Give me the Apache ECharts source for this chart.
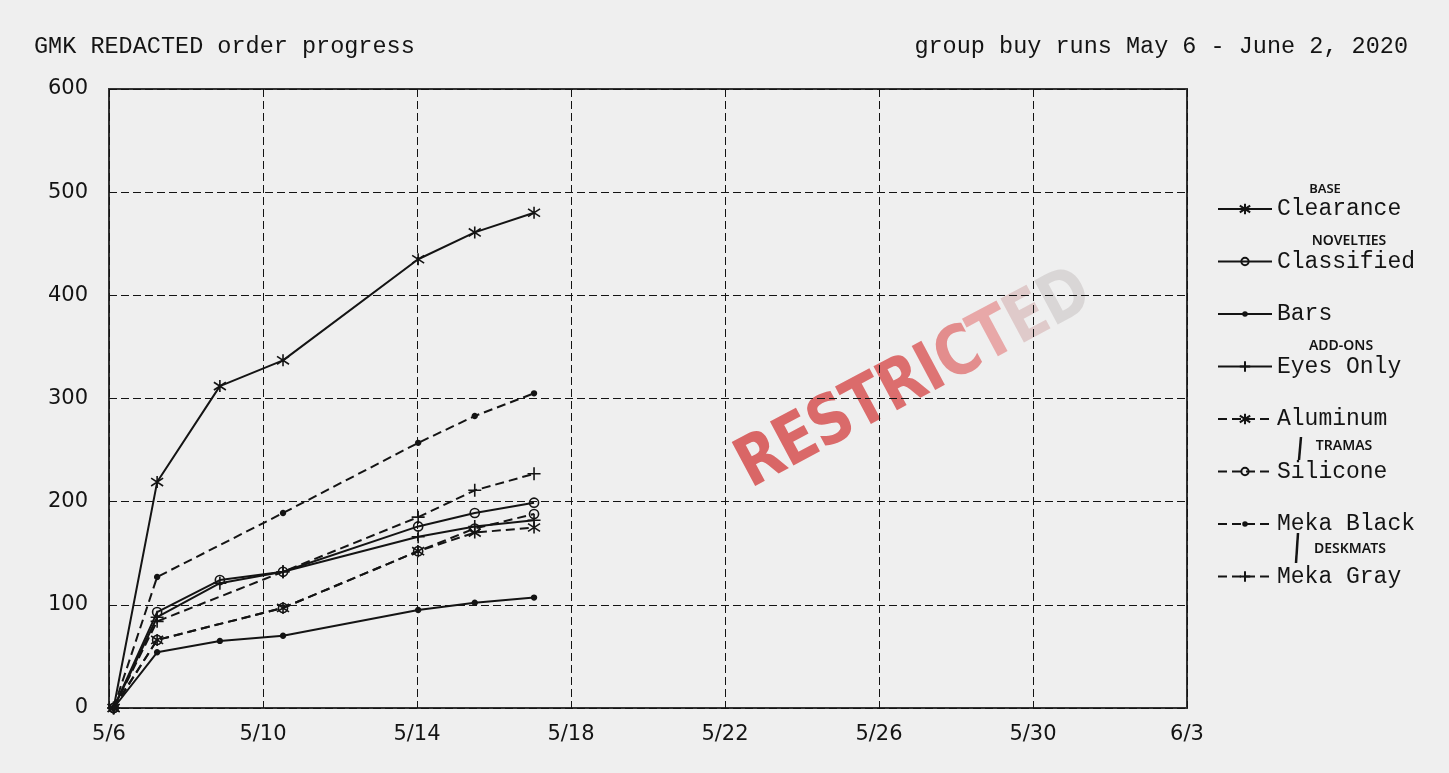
<!DOCTYPE html>
<html>
<head>
<meta charset="utf-8">
<script src="https://cdn.jsdelivr.net/npm/echarts@6/dist/echarts.min.js"></script>
<style>
html,body{margin:0;padding:0;background:#efefef;}
#chart{width:1449px;height:773px;}
</style>
</head>
<body>
<div id="chart"></div>
<script>
// ---- data ----
const titleLeft = 'GMK REDACTED order progress';
const titleRight = 'group buy runs May 6 - June 2, 2020';
const dayOffsets = [0.12, 1.25, 2.88, 4.52, 8.03, 9.5, 11.04]; // days after 5/6
const xTickLabels = ['5/6', '5/10', '5/14', '5/18', '5/22', '5/26', '5/30', '6/3'];
const yTickLabels = ['0', '100', '200', '300', '400', '500', '600'];
const seriesNames = ['Clearance', 'Classified', 'Bars', 'Eyes Only', 'Aluminum', 'Silicone', 'Meka Black', 'Meka Gray'];
const clearance  = [0, 219, 312, 337, 435, 461, 480];
const classified = [0, 93, 124, 132, 176, 189, 199];
const bars       = [0, 54, 65, 70, 95, 102, 107];
const eyesOnly   = [0, 88, 121, 132, 166, 176, 182];
const aluminum   = [0, 66, null, 97, 152, 170, 175];
const silicone   = [0, 66, null, 97, 152, 174, 188];
const mekaBlack  = [0, 127, null, 189, 257, 283, 305];
const mekaGray   = [0, 84, null, 132, 185, 211, 227];
const notes = ['BASE', 'NOVELTIES', 'ADD-ONS', 'TRAMAS', 'DESKMATS'];
const stampText = 'RESTRICTED';

// ---- styles ----
const INK = '#141414';
const MONO = '"Liberation Mono", "DejaVu Sans Mono", monospace';
const SANS = '"DejaVu Sans", sans-serif';
const HAND = '"Noto Sans", sans-serif';
const ASTER = 'path://M0,-1L0,1M-0.8,-0.65L0.8,0.65M-0.8,0.65L0.8,-0.65';
const PLUS = 'path://M-1,0L1,0M0,-1L0,1';
const RING = 'path://M-1,-1M1,1M0.7,0A0.7,0.7,0,1,1,-0.7,0A0.7,0.7,0,1,1,0.7,0Z';
const DOT = 'path://M-1,-1M1,1M0.34,0A0.34,0.34,0,1,1,-0.34,0A0.34,0.34,0,1,1,0.34,0Z';
const stampColors = ['#d96666', '#da6868', '#da6a6a', '#db6b6b', '#dc6e6e', '#de7474', '#e38d8d', '#e8a8a8', '#dfcaca', '#d9d6d6'];

const values = [clearance, classified, bars, eyesOnly, aluminum, silicone, mekaBlack, mekaGray];
const markers = [
  {symbol: ASTER, size: 12, fill: INK},
  {symbol: RING, size: 13, fill: 'rgba(0,0,0,0)'},
  {symbol: DOT, size: 14, fill: INK},
  {symbol: PLUS, size: 13, fill: INK},
];
const dashPattern = [9, 5];

const series = seriesNames.map((name, i) => {
  const m = markers[i % 4];
  const dashed = i >= 4;
  return {
    name: name,
    type: 'line',
    data: values[i].map((v, j) => [dayOffsets[j], v]),
    connectNulls: true,
    symbol: m.symbol,
    symbolSize: m.size,
    showSymbol: true,
    itemStyle: {color: m.fill, borderColor: INK, borderWidth: 1.6, opacity: 1},
    lineStyle: {color: INK, width: 2, type: dashed ? dashPattern : 'solid'},
    emphasis: {disabled: true},
    z: 3
  };
});

// stamp letters laid out along a rotated baseline
const stampFont = 'bold 58px "DejaVu Sans", sans-serif';
const mctx = document.createElement('canvas').getContext('2d');
mctx.font = stampFont;
const advances = stampText.split('').map(ch => mctx.measureText(ch).width * 0.97);
const totalW = advances.reduce((a, b) => a + b, 0);
let acc = -totalW / 2;
const stampLetters = stampText.split('').map((ch, i) => {
  const el = {type: 'text', x: acc, y: 0,
    style: {text: ch, font: stampFont, fill: stampColors[i], align: 'left', verticalAlign: 'middle'}};
  acc += advances[i];
  return el;
});

const chart = echarts.init(document.getElementById('chart'), null, {renderer: 'canvas'});
const noteFont = '600 14px ' + HAND;
const option = {
  animation: false,
  backgroundColor: '#efefef',
  grid: {left: 109, right: 262, top: 89, bottom: 65, show: true, borderColor: '#333', borderWidth: 2, backgroundColor: 'transparent'},
  xAxis: {
    type: 'value', min: 0, max: 28, interval: 4,
    axisLine: {show: false}, axisTick: {show: false},
    splitLine: {show: true, lineStyle: {color: INK, width: 1, type: [8, 4]}},
    axisLabel: {
      formatter: v => xTickLabels[Math.round(v / 4)],
      fontFamily: SANS, fontSize: 21, color: INK, margin: 16
    }
  },
  yAxis: {
    type: 'value', min: 0, max: 600, interval: 100,
    axisLine: {show: false}, axisTick: {show: false},
    splitLine: {show: true, lineStyle: {color: INK, width: 1, type: [8, 4]}},
    axisLabel: {
      formatter: v => yTickLabels[Math.round(v / 100)],
      fontFamily: SANS, fontSize: 21, color: INK, margin: 21
    }
  },
  legend: {
    orient: 'vertical', left: 1217, top: 197.5, padding: 0,
    itemWidth: 54, itemHeight: 13, itemGap: 29.5,
    data: seriesNames,
    textStyle: {fontFamily: MONO, fontSize: 23, color: INK, lineHeight: 23},
    selectedMode: false
  },
  graphic: [
    {type: 'text', left: 34, top: 35, style: {text: titleLeft, font: '23.5px ' + MONO, fill: INK}},
    {type: 'text', right: 41, top: 35, style: {text: titleRight, font: '23.5px ' + MONO, fill: INK}},
    {type: 'group', x: 914, y: 381, rotation: 0.49, scaleY: 1.18, z: 1, children: stampLetters},
    // handwritten notes
    {type: 'text', x: 1325, y: 189, style: {text: notes[0], font: '600 13px ' + HAND, fill: INK, align: 'center', verticalAlign: 'middle'}},
    {type: 'text', x: 1349, y: 241, style: {text: notes[1], font: noteFont, fill: INK, align: 'center', verticalAlign: 'middle'}},
    {type: 'text', x: 1341, y: 346, style: {text: notes[2], font: noteFont, fill: INK, align: 'center', verticalAlign: 'middle'}},
    {type: 'line', shape: {x1: 1301, y1: 437, x2: 1299, y2: 460}, style: {stroke: INK, lineWidth: 2.5}},
    {type: 'text', x: 1344, y: 446, style: {text: notes[3], font: noteFont, fill: INK, align: 'center', verticalAlign: 'middle'}},
    {type: 'line', shape: {x1: 1298, y1: 533, x2: 1296, y2: 563}, style: {stroke: INK, lineWidth: 2.5}},
    {type: 'text', x: 1350, y: 549, style: {text: notes[4], font: noteFont, fill: INK, align: 'center', verticalAlign: 'middle'}}
  ],
  series: series
};
chart.setOption(option);
</script>
</body>
</html>
